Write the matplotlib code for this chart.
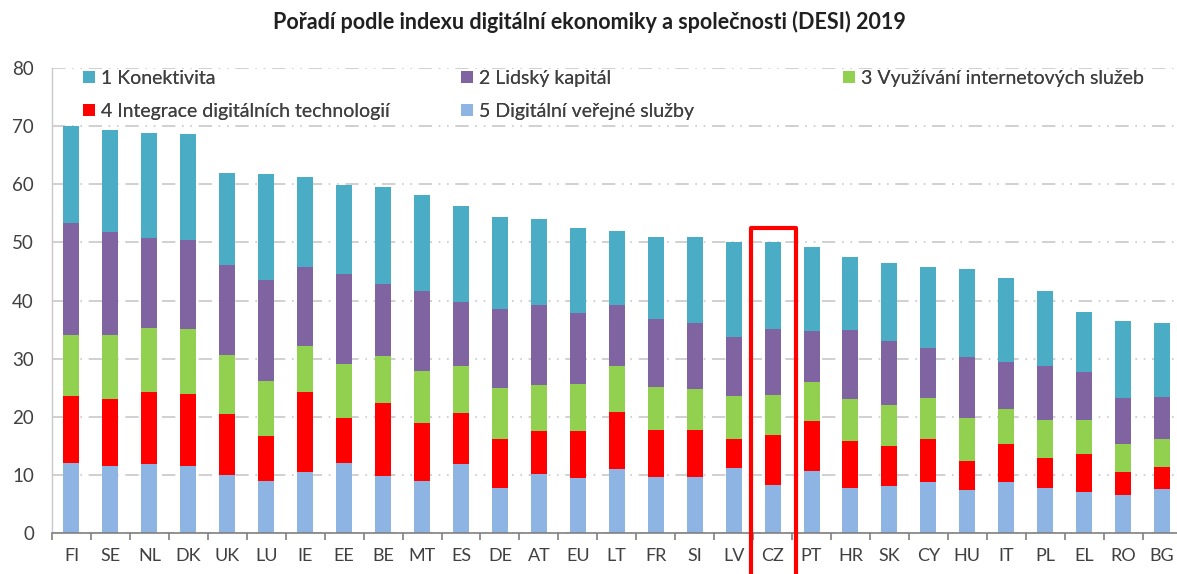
import matplotlib
matplotlib.use("Agg")
import matplotlib.pyplot as plt
from matplotlib.patches import Rectangle
import numpy as np

plt.rcParams['font.family'] = ['Lato', 'DejaVu Sans']

# Countries, ordered by DESI 2019 score
countries = ["FI", "SE", "NL", "DK", "UK", "LU", "IE", "EE", "BE", "MT",
             "ES", "DE", "AT", "EU", "LT", "FR", "SI", "LV", "CZ", "PT",
             "HR", "SK", "CY", "HU", "IT", "PL", "EL", "RO", "BG"]

# Dimension scores
verejne_sluzby = [12.0, 11.5, 11.8, 11.5, 10.0, 8.9, 10.5, 12.0, 9.8, 9.0,
                  11.8, 7.8, 10.1, 9.4, 11.0, 9.6, 9.6, 11.1, 8.3, 10.7,
                  7.8, 8.1, 8.7, 7.4, 8.7, 7.8, 7.0, 6.5, 7.6]
integrace = [11.6, 11.5, 12.5, 12.4, 10.4, 7.8, 13.8, 7.7, 12.5, 9.9,
             8.8, 8.4, 7.5, 8.2, 9.8, 8.2, 8.2, 5.1, 8.6, 8.6,
             8.0, 6.8, 7.5, 5.0, 6.6, 5.1, 6.6, 4.0, 3.8]
vyuzivani = [10.4, 11.0, 11.0, 11.2, 10.3, 9.4, 7.9, 9.3, 8.2, 9.0,
             8.1, 8.8, 7.8, 8.1, 7.9, 7.4, 7.0, 7.4, 6.9, 6.6,
             7.2, 7.2, 7.0, 7.3, 6.0, 6.6, 5.9, 4.8, 4.8]
lidsky_kapital = [19.3, 17.7, 15.4, 15.3, 15.4, 17.4, 13.5, 15.5, 12.3, 13.8,
                  11.1, 13.6, 13.9, 12.1, 10.5, 11.6, 11.4, 10.1, 11.3, 8.8,
                  11.9, 11.0, 8.6, 10.5, 8.1, 9.2, 8.2, 7.9, 7.2]
konektivita = [16.7, 17.7, 18.2, 18.3, 15.8, 18.2, 15.5, 15.4, 16.7, 16.5,
               16.4, 15.8, 14.7, 14.6, 12.8, 14.1, 14.7, 16.3, 14.9, 14.5,
               12.5, 13.3, 14.0, 15.2, 14.5, 13.0, 10.3, 13.2, 12.8]

highlight = "CZ"

# stacking order bottom -> top
series = [
    ("5 Digitální veřejné služby", verejne_sluzby, "#8DB4E2"),
    ("4 Integrace digitálních technologií", integrace, "#FF0000"),
    ("3 Využívání internetových služeb", vyuzivani, "#92D050"),
    ("2 Lidský kapitál", lidsky_kapital, "#8064A2"),
    ("1 Konektivita", konektivita, "#4BACC6"),
]

fig = plt.figure(figsize=(11.77, 5.74), dpi=100)
W, H = 1177, 574
# axes box in pixels: left 52, bottom 533, top 68, slot width ~39 px
ax = fig.add_axes([52 / W, (H - 533) / H, 29 * 38.95 / W, (533 - 68) / H])

x = np.arange(len(countries))
bottom = np.zeros(len(countries))
handles = {}
for name, vals, col in series:
    vals = np.array(vals)
    b = ax.bar(x, vals, width=0.41, bottom=bottom, color=col, label=name, zorder=2)
    handles[name] = b
    bottom += vals

ax.set_xlim(-0.5, len(countries) - 0.5)
ax.set_ylim(0, 80)
ax.set_yticks(range(0, 81, 10))
ax.set_xticks(x)
ax.set_xticklabels(countries)
ax.tick_params(axis='y', labelsize=13.5, colors='#404040', length=0, pad=13)
ax.tick_params(axis='x', labelsize=13, colors='#404040', length=0, pad=11)

# category separator ticks on the x axis
ax.set_xticks(np.arange(-0.5, len(countries), 1), minor=True)
ax.tick_params(axis='x', which='minor', length=5, width=1.2, color='#808080', direction='out')

ax.grid(axis='y', color='#c8c8c8', linewidth=1.2, linestyle=(0, (8, 4, 1, 4, 1, 4)), zorder=0)
for s in ['top', 'right']:
    ax.spines[s].set_visible(False)
ax.spines['bottom'].set_color('#808080')
ax.spines['bottom'].set_linewidth(1.2)
ax.spines['left'].set_color('#c8c8c8')
ax.spines['left'].set_linewidth(1.0)

fig.text(589 / W, 1 - 22 / H, "Pořadí podle indexu digitální ekonomiky a společnosti (DESI) 2019",
         ha='center', va='center', fontsize=15.5, fontweight='bold', color='#202020')

# legend laid out in three equal columns like the original
columns = [
    (["1 Konektivita", "4 Integrace digitálních technologií"], 83),
    (["2 Lidský kapitál", "5 Digitální veřejné služby"], 461),
    (["3 Využívání internetových služeb"], 843),
]
for names, xpix in columns:
    leg = fig.legend([handles[n] for n in names], names,
                     loc='upper left', bbox_to_anchor=(xpix / W, 1 - 70 / H),
                     frameon=False, fontsize=14, handlelength=0.6, handleheight=0.6,
                     handletextpad=0.35, labelspacing=0.8, borderaxespad=0, borderpad=0,
                     labelcolor='#404040')
    fig.add_artist(leg)

# red frame around the Czech Republic
i = countries.index(highlight)
ax.add_patch(Rectangle((i - 0.56, -15), 1.17, 15 + 52.4, fill=False,
                       edgecolor='#FF0000', linewidth=3, clip_on=False, zorder=5,
                       joinstyle='round'))

fig.savefig("out.png", dpi=100)
